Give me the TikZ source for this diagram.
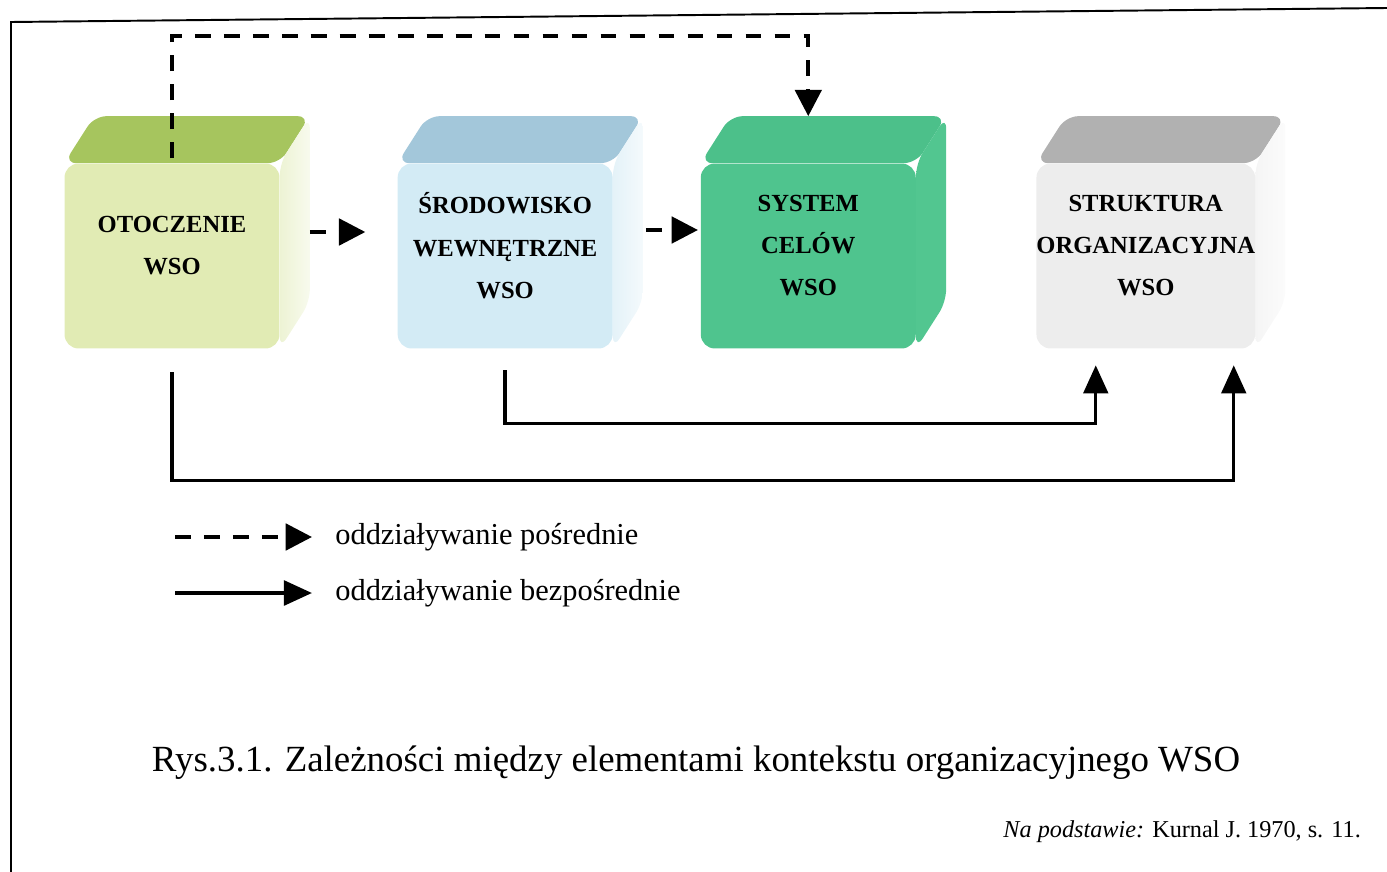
\documentclass[tikz,border=0pt]{standalone}
\usepackage{fontspec}
\setmainfont{Liberation Serif}
\usepackage{xcolor}
\usepackage{tikz}
\usetikzlibrary{arrows.meta, positioning, backgrounds, calc}

\definecolor{limeFront}{HTML}{E1EBB4}
\definecolor{limeTop}{HTML}{A6C55E}
\definecolor{limeSide}{HTML}{EDF3D4}
\definecolor{blueFront}{HTML}{D3EBF5}
\definecolor{blueTop}{HTML}{A3C7DA}
\definecolor{blueSide}{HTML}{E4F2F8}
\definecolor{celeFront}{HTML}{4FC48E}
\definecolor{celeTop}{HTML}{4CC08A}
\definecolor{celeSide}{HTML}{52C690}
\definecolor{grayFront}{HTML}{EDEDED}
\definecolor{grayTop}{HTML}{B1B1B1}
\definecolor{graySide}{HTML}{F5F5F5}

\begin{document}
\begin{tikzpicture}[
    x=0.02cm, y=-0.02cm,
    face/.style={minimum width=4.3cm, minimum height=3.7cm, rounded corners=8pt, inner sep=0pt, text depth=12pt, align=center, font=\fontsize{14pt}{24pt}\selectfont\bfseries},
    dasharrow/.style={line width=2.3pt, dash pattern=on 9pt off 7.5pt, -{Triangle[length=15pt, width=15pt]}},
    solidarrow/.style={line width=1.9pt, -{Triangle[length=16pt, width=14pt]}},
    legendtext/.style={anchor=west, inner sep=0pt, font=\fontsize{17.3pt}{20pt}\selectfont}
]
\useasboundingbox (0,0) rectangle (1387,872);

% Frame of the scanned page
\draw[line width=1.1pt] (11,872) -- (11,22) -- (1387,8);

% Cubes (front faces)
\node[face, fill=limeFront] (otoczenie) at (172,256) {OTOCZENIE\\WSO};
\node[face, fill=blueFront, right=2.35cm of otoczenie] (srodowisko) {ŚRODOWISKO\\WEWNĘTRZNE\\WSO};
\node[face, fill=celeFront, right=1.75cm of srodowisko] (cele) {SYSTEM\\CELÓW\\WSO};
\node[face, fill=grayFront, right=2.4cm of cele] (struktura) {STRUKTURA\\ORGANIZACYJNA\\WSO};

% Top and side faces
\begin{scope}[on background layer]
\foreach \n/\ct/\cs/\cf in {otoczenie/limeTop/limeSide/white, srodowisko/blueTop/blueSide/white, cele/celeTop/celeSide/celeSide, struktura/grayTop/graySide/white}{
  \fill[\ct, rounded corners=7pt] (\n.north west) -- ++(30,-47) -- ([shift={(30,-47)}]\n.north east) -- (\n.north east) -- cycle;
  \shade[left color=\cs, right color=\cs!40!\cf, rounded corners=7pt] (\n.north east) -- ++(30,-47) -- ([shift={(30,-47)}]\n.south east) -- (\n.south east) -- cycle;
}
\end{scope}

% Indirect influence
\draw[dasharrow, shorten <=0.6cm, shorten >=0.64cm] ([yshift=0.48cm]otoczenie.east) -- ([yshift=0.48cm]srodowisko.west);
\draw[dasharrow, shorten <=0.66cm, shorten >=0.05cm] ([yshift=0.52cm]srodowisko.east) -- ([yshift=0.52cm]cele.west);
\coordinate (topline) at (0,36);
\draw[dasharrow] ([yshift=0.1cm]otoczenie.north) -- (otoczenie.north |- topline) -| ([yshift=0.94cm]cele.north);

% Direct influence
\draw[solidarrow] ([yshift=-0.43cm]srodowisko.south) -- ++(0,53) -| ([xshift=-1.0cm, yshift=-0.33cm]struktura.south);
\draw[solidarrow] ([yshift=-0.47cm]otoczenie.south) -- ++(0,108) -| ([xshift=1.76cm, yshift=-0.33cm]struktura.south);

% Legend
\node[legendtext] (posr) at (335,537) {oddziaływanie pośrednie};
\node[legendtext] (bezp) at (335,593) {oddziaływanie bezpośrednie};
\coordinate (legA) at (175,537);
\coordinate (legB) at (175,593);
\draw[dasharrow, shorten >=0.46cm] (legA) -- (posr.west);
\draw[solidarrow, line width=2.3pt, shorten >=0.46cm] (legB) -- (bezp.west);

% Caption
\node[font=\fontsize{21pt}{24pt}\selectfont] (caption) at (696,763) {Rys.3.1. Zależności między elementami kontekstu organizacyjnego WSO};
\node[anchor=east, font=\fontsize{13.8pt}{16pt}\selectfont] (source) at (1367,832) {\textit{Na podstawie:} Kurnal J. 1970, s. 11.};
\end{tikzpicture}
\end{document}
